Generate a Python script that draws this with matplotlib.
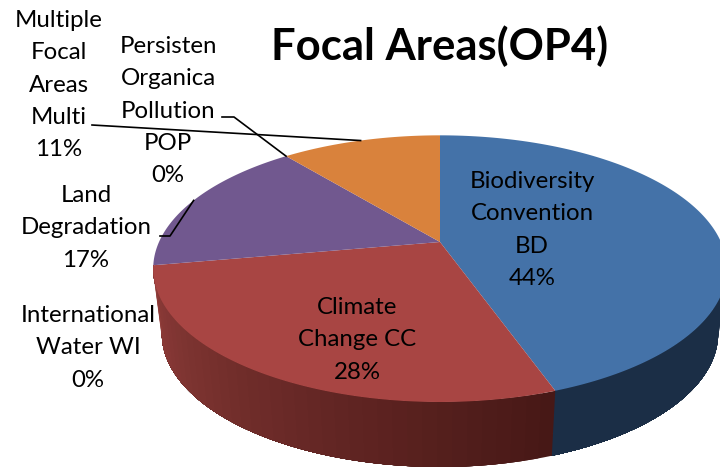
import numpy as np
import matplotlib
matplotlib.use("Agg")
import matplotlib.pyplot as plt

title = "Focal Areas(OP4)"
# clockwise from 12 o'clock, the labels round these to whole percents
names = ["Biodiversity\nConvention\nBD\n44%", "Climate\nChange CC\n28%", "International\nWater WI\n0%",
         "Land\nDegradation\n17%", "Persisten\nOrganica\nPollution\nPOP\n0%", "Multiple\nFocal\nAreas\nMulti\n11%"]
shares = [44.6, 27.6, 0.0, 16.9, 0.0, 10.9]
colors = ["#4472a8", "#a84543", "#89a54e", "#71588f", "#4198af", "#d9823c"]
# wall colours: (near the start of the slice, near its end)
wall_start = ["#1b2e46", "#471816", "#3a4a20", "#3a2c4c", "#1f4b58", "#7a4820"]
wall_end = ["#1b2e46", "#923e3b", "#3a4a20", "#3a2c4c", "#1f4b58", "#7a4820"]

# pie geometry in pixels
apex_x, apex_y = 440, 242
rad_x, rad_y, persp = 281, 128, 0.2
depth = 65


def rim(pct):
    # point on the top edge, with the perspective of the 3d pie
    t = np.asarray(pct) / 100 * 2 * np.pi
    u = np.sin(t)
    v = -np.cos(t)
    w = 1 - persp * v
    return apex_x + rad_x * u / w, apex_y + rad_y * v / w


def lower(x, y):
    # same point on the bottom edge
    return apex_x + (x - apex_x) * 0.97, y + depth


fig = plt.figure(figsize=(7.2, 4.69), dpi=100)
ax = fig.add_axes([0, 0, 1, 1])
ax.set_xlim(0, 720)
ax.set_ylim(469, 0)
ax.axis("off")

# the wall is only seen from the right edge round to the red/purple border
cum = np.cumsum(shares)
wall_lo, wall_hi = 25.0, cum[2]

start = 0.0
for share, c1, c2 in zip(shares, wall_start, wall_end):
    stop = start + share
    lo, hi = max(start, wall_lo), min(stop, wall_hi)
    if hi > lo:
        rgb1 = np.array(matplotlib.colors.to_rgb(c1))
        rgb2 = np.array(matplotlib.colors.to_rgb(c2))
        # shaded strips, each one runs on to the slice end so no seams show
        for e in np.linspace(lo, hi, 40, endpoint=False):
            x, y = rim(np.linspace(e, hi, 60))
            bx, by = lower(x, y)
            f = (e - lo) / (hi - lo)
            ax.fill(np.r_[x, bx[::-1]], np.r_[y, by[::-1]], color=rgb1 + (rgb2 - rgb1) * f,
                    lw=0, zorder=2)
    start = stop

start = 0.0
for share, col in zip(shares, colors):
    if share > 0:
        x, y = rim(np.linspace(start, start + share, 150))
        ax.fill(np.r_[apex_x, x], np.r_[apex_y, y], color=col, lw=0, zorder=3)
    start += share

font = ["Lato", "DejaVu Sans"]
label_pos = [(532, 230), (357, 340), (88, 348), (86, 228), (168, 111), (59, 85)]
for name, (lx, ly) in zip(names, label_pos):
    ax.text(lx, ly, name, ha="center", va="center", fontsize=17.3, family=font,
            linespacing=1.66, color="black", zorder=5)
ax.text(440, 46, title, ha="center", va="center", fontsize=31.4, family=font, fontweight="bold", zorder=5)

# leader lines end on the middle of their slice
mids = cum - np.array(shares) / 2
leaders = [(3, [(160, 236), (170, 236)]), (4, [(222, 117), (234, 117)]), (5, [(92, 125)])]
for idx, pts in leaders:
    ex, ey = rim(mids[idx])
    xs = [p[0] for p in pts] + [float(ex)]
    ys = [p[1] for p in pts] + [float(ey)]
    ax.plot(xs, ys, color="black", lw=1.2, zorder=4)

fig.savefig("out.png", dpi=100)
